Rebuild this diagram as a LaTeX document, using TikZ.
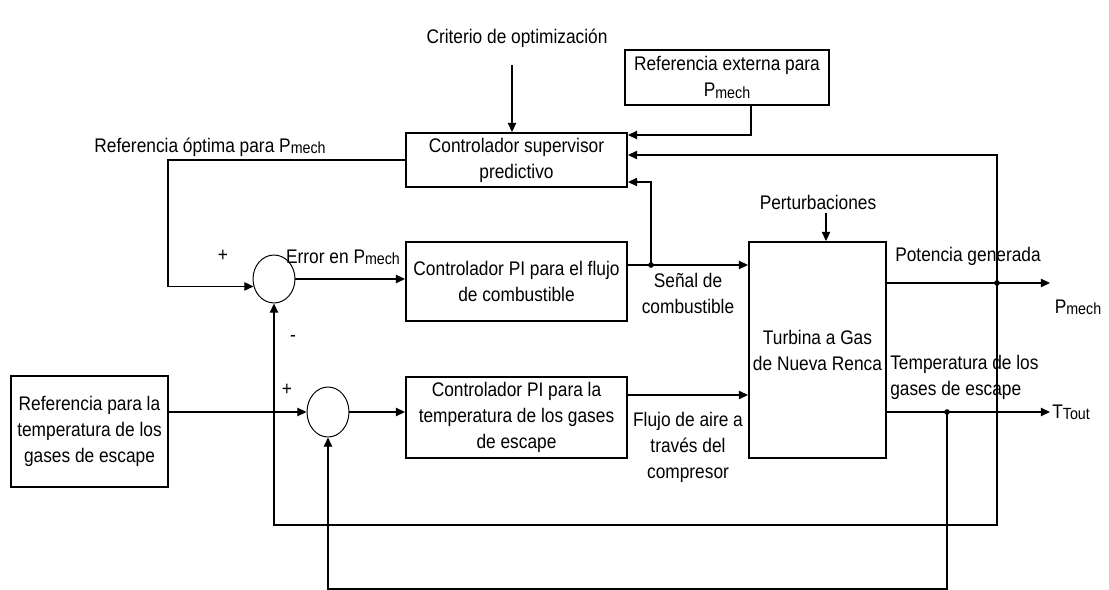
\documentclass[tikz,border=0pt]{standalone}
\usepackage{fontspec}
\setmainfont{Liberation Sans}[FakeStretch=0.88]
\usetikzlibrary{arrows.meta,shapes.geometric,calc}
\newcommand{\subtxt}[1]{\raisebox{-0.12ex}{\fontsize{11.5}{11.5}\selectfont #1}}
\newcommand{\Pm}{P\subtxt{mech}}

\begin{document}
\begin{tikzpicture}[x=0.25mm,y=-0.25mm]
			\tikzset{blk/.style={draw,line width=1.4pt,inner sep=0pt,align=center},
				sumnode/.style={draw,ellipse,line width=0.7pt,minimum width=10.5mm,minimum height=12mm,inner sep=0pt},
				arr/.style={line width=0.8pt,-{Triangle[length=2.3mm,width=2.1mm]}},
				lbl/.style={align=center,inner sep=0pt},
				every node/.append style={font=\fontsize{14}{18.5}\selectfont}}
			\useasboundingbox (0,0) rectangle (1109,590);
			\node[blk,minimum width=55.25mm,minimum height=13.5mm] (sup) at (516.5,160) {Controlador supervisor\\predictivo};
			\node[blk,minimum width=51mm,minimum height=13.75mm] (ext) at (727,77.5) {Referencia externa para\\\Pm};
			\node[blk,minimum width=55.25mm,minimum height=19.75mm] (pif) at (516.5,281.5) {Controlador PI para el flujo\\de combustible};
			\node[blk,minimum width=55.25mm,minimum height=20.25mm] (pit) at (516.5,417.5) {Controlador PI para la\\temperatura de los gases\\de escape};
			\node[blk,minimum width=34.25mm,minimum height=54mm] (turb) at (817.5,350) {Turbina a Gas\\de Nueva Renca};
			\node[blk,minimum width=39.25mm,minimum height=27.75mm] (reft) at (89.5,431.5) {Referencia para la\\temperatura de los\\gases de escape};
			\node[sumnode] (sum1) at (274,279) {};
			\node[sumnode,minimum height=12.5mm] (sum2) at (328,412) {};
			\node[lbl] (crit) at (517,38) {Criterio de optimizaci\'on};
			\node[lbl] (ropt) at (210,147) {Referencia \'optima para \Pm};
			\node[lbl] (err) at (343,257) {Error en \Pm};
			\node[lbl] (fuellbl) at (688,293) {Se\~nal de\\combustible};
			\node[lbl] (airlbl) at (688,447) {Flujo de aire a\\trav\'es del\\compresor};
			\node[lbl] (pertlbl) at (818,202) {Perturbaciones};
			\node[lbl] (potlbl) at (968,256) {Potencia generada};
			\node[lbl,anchor=west,align=left] (templbl) at (890,377) {Temperatura de los\\gases de escape};
			\node[lbl] (pmlbl) at (1078,307) {\Pm};
			\node[lbl,anchor=west] (ttlbl) at (1052,412) {T\subtxt{Tout}};
			\node[lbl] (plus1) at (223,256) {+};
			\node[lbl] (minus1) at (293,338) {-};
			\node[lbl] (plus2) at (287,390) {+};
			\coordinate (critend) at (512,65);
			\coordinate (pert) at (826,213);
			\coordinate (fuel) at (627,265);
			\coordinate (fdot) at (651,265);
			\coordinate (air) at (627,395);
			\coordinate (bend) at (168,160);
			\coordinate (pout) at (886,283);
			\coordinate (pdot) at (997,283);
			\coordinate (pend) at (1050,283);
			\coordinate (tout) at (886,412);
			\coordinate (tdot) at (947,412);
			\coordinate (tend) at (1050,412);
			\coordinate (fb1) at (997,525);
			\coordinate (fb2) at (947,589);
			\draw[arr] (critend) -- (critend |- sup.north);
			\draw[arr] ([xshift=6mm]ext.south) |- ([yshift=6.25mm]sup.east);
			\draw[arr] (pdot) |- ([yshift=1.25mm]sup.east);
			\draw[arr] (fdot) |- ([yshift=-5.5mm]sup.east);
			\draw[arr] (sup.west) -- (bend) |- (sum1.200);
			\draw[arr] (sum1.east) -- (sum1.east -| pif.west);
			\draw[arr] (fuel) -- (fuel -| turb.west);
			\draw[arr] (air) -- (air -| turb.west);
			\draw[arr] (pert) -- (pert |- turb.north);
			\draw[arr] (sum2.west -| reft.east) -- (sum2.west);
			\draw[arr] (sum2.east) -- (sum2.east -| pit.west);
			\draw[arr] (pout) -- (pend);
			\draw[arr] (tout) -- (tend);
			\draw[arr] (pdot) -- (fb1) -| (sum1.south);
			\draw[arr] (tdot) -- (fb2) -| (sum2.south);
			\fill (fdot) circle (2pt) (pdot) circle (2pt) (tdot) circle (2pt);
		\end{tikzpicture}
\end{document}
